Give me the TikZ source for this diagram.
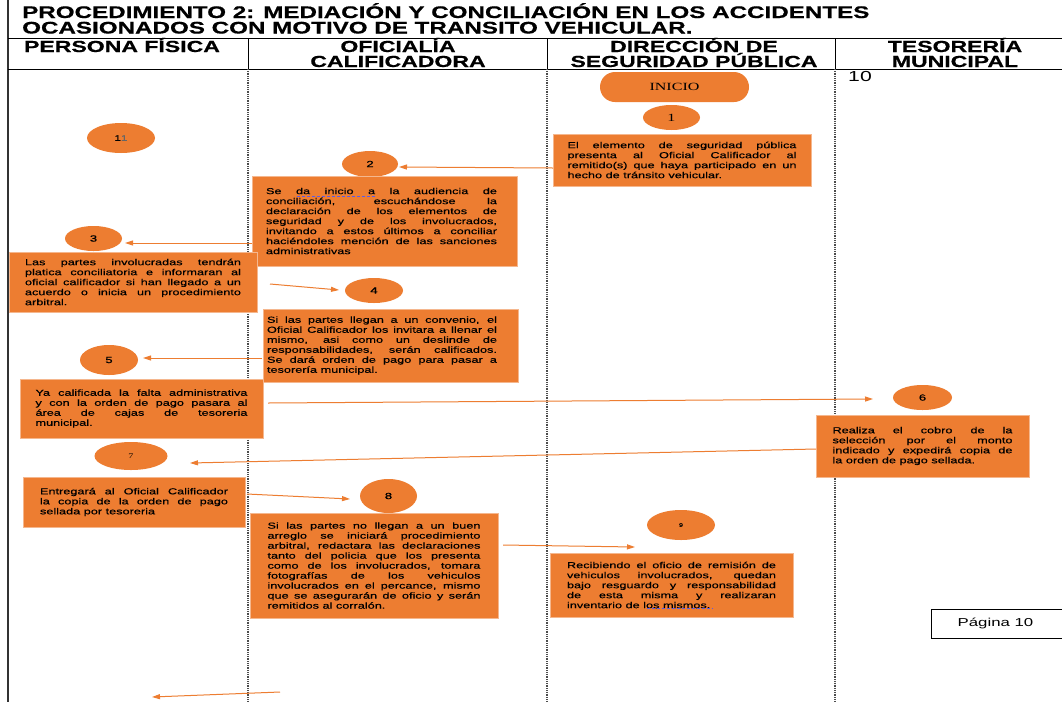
\documentclass[tikz,border=0pt]{standalone}
\usepackage{fontspec}
\setmainfont{Liberation Sans}[FakeStretch=1.46]
\newfontfamily\serifst{Liberation Serif}[FakeStretch=1.46]
\newfontfamily\boldst{Liberation Sans Bold}[FakeStretch=1.44, FakeBold=0.6]
\newfontfamily\boxf{Liberation Sans}[FakeStretch=1.46, FakeBold=0.5]
\usetikzlibrary{arrows.meta,shapes.geometric}
\definecolor{org}{HTML}{ED7D31}
\definecolor{spell}{HTML}{5B5BE8}
\newcommand\jline[1]{\hbox to\hsize{#1}}
\newcommand\lline[1]{\hbox to\hsize{#1\hfil}}
\newcommand\btext[2]{\vbox{\hsize=#1\boxf\fontsize{8.7pt}{10pt}\selectfont\baselineskip=10pt\relax #2}}
\tikzset{
  box/.style={rectangle, fill=org, draw=org!55!white, line width=0.6pt, inner sep=0pt},
  ell/.style={ellipse, fill=org, inner sep=0pt, font=\boxf\fontsize{9pt}{10pt}\selectfont},
  conn/.style={draw=org, line width=1pt, -{Triangle[length=8pt,width=5pt]}},
  ttl/.style={anchor=base west, inner sep=0pt, font=\boldst\fontsize{16.8pt}{18pt}\selectfont},
  hdr/.style={anchor=base, inner sep=0pt, font=\boldst\fontsize{16pt}{16pt}\selectfont},
  lane/.style={line width=1.3pt, black!70, dash pattern=on 1pt off 0.8pt},
  spellmark/.style={draw=spell, line width=1pt, dash pattern=on 3pt off 2pt}
}
\begin{document}
\begin{tikzpicture}[x=1pt,y=-1pt]
\useasboundingbox (0,0) rectangle (1062,702);
\fill[white] (0,0) rectangle (1062,702);
% frame
\draw[line width=1.8pt, black!80] (8,0) -- (8,702);
\draw[line width=0.9pt] (8,38) -- (1062,38);
\draw[line width=0.9pt] (8,69) -- (1062,69);
\foreach \x in {248,547,835} {
  \draw[line width=0.8pt] (\x,38) -- (\x,69);
  \draw[lane] (\x,69) -- (\x,702);
}
% title
\node[ttl] (t1) at (22,18) {PROCEDIMIENTO 2: MEDIACIÓN Y CONCILIACIÓN EN LOS ACCIDENTES};
\node[ttl] (t2) at (22,33.5) {OCASIONADOS CON MOTIVO DE TRANSITO VEHICULAR.};
% header
\node[hdr] (h1) at (122,52) {PERSONA FÍSICA};
\node[hdr] (h2a) at (398,52) {OFICIALÍA};
\node[hdr] (h2b) at (398,67) {CALIFICADORA};
\node[hdr] (h3a) at (694,52) {DIRECCIÓN DE};
\node[hdr] (h3b) at (694,67) {SEGURIDAD PÚBLICA};
\node[hdr] (h4a) at (955,52) {TESORERÍA};
\node[hdr] (h4b) at (955,67) {MUNICIPAL};
\node[inner sep=0pt, font=\fontsize{14.5pt}{15pt}\selectfont] (pg) at (860,77) {10};
% start
\node[rectangle, rounded corners=15pt, fill=org, minimum width=149pt, minimum height=30pt, inner sep=0pt,
      font=\serifst\fontsize{11pt}{12pt}\selectfont] (inicio) at (674.5,87) {INICIO};
% ellipses
\node[ell, minimum width=57pt, minimum height=25pt, font=\serifst\fontsize{11pt}{12pt}\selectfont] (e1) at (671.5,117.5) {1};
\node[ell, minimum width=56pt, minimum height=26pt] (e2) at (370,164) {2};
\node[ell, minimum width=68pt, minimum height=30pt, font=\boxf\fontsize{8pt}{9pt}\selectfont] (e11) at (121,138) {1\textcolor{black!60}{1}};
\node[ell, minimum width=57pt, minimum height=25pt] (e3) at (93.5,238.5) {3};
\node[ell, minimum width=58pt, minimum height=25pt] (e4) at (374,290.5) {4};
\node[ell, minimum width=58pt, minimum height=30pt] (e5) at (109,360) {5};
\node[ell, minimum width=59pt, minimum height=25pt] (e6) at (922.5,397.5) {6};
\node[ell, minimum width=73pt, minimum height=28pt, font=\serifst\fontsize{7pt}{8pt}\selectfont] (e7) at (131,456) {7};
\node[ell, minimum width=57pt, minimum height=34pt] (e8) at (388.5,496) {8};
\node[ell, minimum width=68pt, minimum height=30pt, font=\boxf\fontsize{5pt}{6pt}\selectfont] (e9) at (681,525) {9};
% boxes
\node[box, minimum width=258pt, minimum height=52pt] (b1) at (682,160) {\btext{229pt}{%
\jline{El elemento de seguridad pública}
\jline{presenta al Oficial Calificador al}
\jline{remitido(s) que haya participado en un}
\lline{hecho de tránsito vehicular.}}};
\node[box, minimum width=265pt, minimum height=90pt] (b2) at (384.5,221) {\btext{231pt}{%
\jline{Se da inicio a la audiencia de}
\jline{conciliación, escuchándose la}
\jline{declaración de los elementos de}
\jline{seguridad y de los involucrados,}
\jline{invitando a estos últimos a conciliar}
\jline{haciéndoles mención de las sanciones}
\lline{administrativas}}\kern6pt};
\node[box, minimum width=248pt, minimum height=60pt] (b3) at (133,282) {\btext{216pt}{%
\jline{Las partes involucradas tendrán}
\jline{platica conciliatoria e informaran al}
\jline{oficial calificador si han llegado a un}
\jline{acuerdo o inicia un procedimiento}
\lline{arbitral.}}};
\node[box, minimum width=255pt, minimum height=73pt] (b4) at (390.5,345.5) {\btext{230pt}{%
\jline{Si las partes llegan a un convenio, el}
\jline{Oficial Calificador los invitara a llenar el}
\jline{mismo, asi como un deslinde de}
\jline{responsabilidades, serán calificados.}
\jline{Se dará orden de pago para pasar a}
\lline{tesorería municipal.}}\kern17pt};
\node[box, minimum width=243pt, minimum height=59pt] (b5) at (141.5,408.5) {\btext{212pt}{%
\jline{Ya calificada la falta administrativa}
\jline{y con la orden de pago pasara al}
\jline{área de cajas de tesoreria}
\lline{municipal.}}};
\node[box, minimum width=213pt, minimum height=62pt] (b6) at (922.5,446) {\btext{180pt}{%
\jline{Realiza el cobro de la}
\jline{selección por el monto}
\jline{indicado y expedirá copia de}
\lline{la orden de pago sellada.}}};
\node[box, minimum width=222pt, minimum height=50pt] (b7) at (134,502) {\btext{188pt}{%
\jline{Entregará al Oficial Calificador}
\jline{la copia de la orden de pago}
\lline{sellada por tesoreria}}};
\node[box, minimum width=248pt, minimum height=105pt] (b8) at (374,565.5) {\btext{213pt}{%
\jline{Si las partes no llegan a un buen}
\jline{arreglo se iniciará procedimiento}
\jline{arbitral, redactara las declaraciones}
\jline{tanto del policia que los presenta}
\jline{como de los involucrados, tomara}
\jline{fotografías de los vehiculos}
\jline{involucrados en el percance, mismo}
\jline{que se asegurarán de oficio y serán}
\lline{remitidos al corralón.}}};
\node[box, minimum width=243pt, minimum height=64pt] (b9) at (671.5,585) {\btext{209pt}{%
\jline{Recibiendo el oficio de remisión de}
\jline{vehiculos involucrados, quedan}
\jline{bajo resguardo y responsabilidad}
\jline{de esta misma y realizaran}
\lline{inventario de los mismos.}}};
% spell-check marks
\coordinate (sp1a) at (297,196); \coordinate (sp1b) at (375,196);
\coordinate (sp2a) at (647,608); \coordinate (sp2b) at (713,608);
\draw[spellmark] (sp1a) -- (sp1b);
\draw[spellmark] (sp2a) -- (sp2b);
% connectors
\coordinate (s1) at (553,168); \coordinate (d1) at (399,167);
\coordinate (s2) at (252,243); \coordinate (d2) at (125,243);
\coordinate (s3) at (270,284); \coordinate (d3) at (339,290);
\coordinate (s4) at (262,358); \coordinate (d4) at (143,358);
\coordinate (s5) at (268,403); \coordinate (d5) at (873,399);
\coordinate (s6) at (816,449); \coordinate (d6) at (190,463);
\coordinate (s7) at (247,494); \coordinate (d7) at (350,499);
\coordinate (s8) at (503,545); \coordinate (d8) at (635,547);
\coordinate (s9) at (280,692); \coordinate (d9) at (152,697);
\foreach \i in {1,...,9} { \draw[conn] (s\i) -- (d\i); }
% page box
\coordinate (pA) at (1062,609); \coordinate (pB) at (931,609);
\coordinate (pC) at (931,638); \coordinate (pD) at (1062,638);
\draw[line width=0.8pt] (pA) -- (pB) -- (pC) -- (pD);
\node[inner sep=0pt, font=\fontsize{11.5pt}{12pt}\selectfont] (pagina) at (995.5,623) {Página 10};
\end{tikzpicture}
\end{document}
